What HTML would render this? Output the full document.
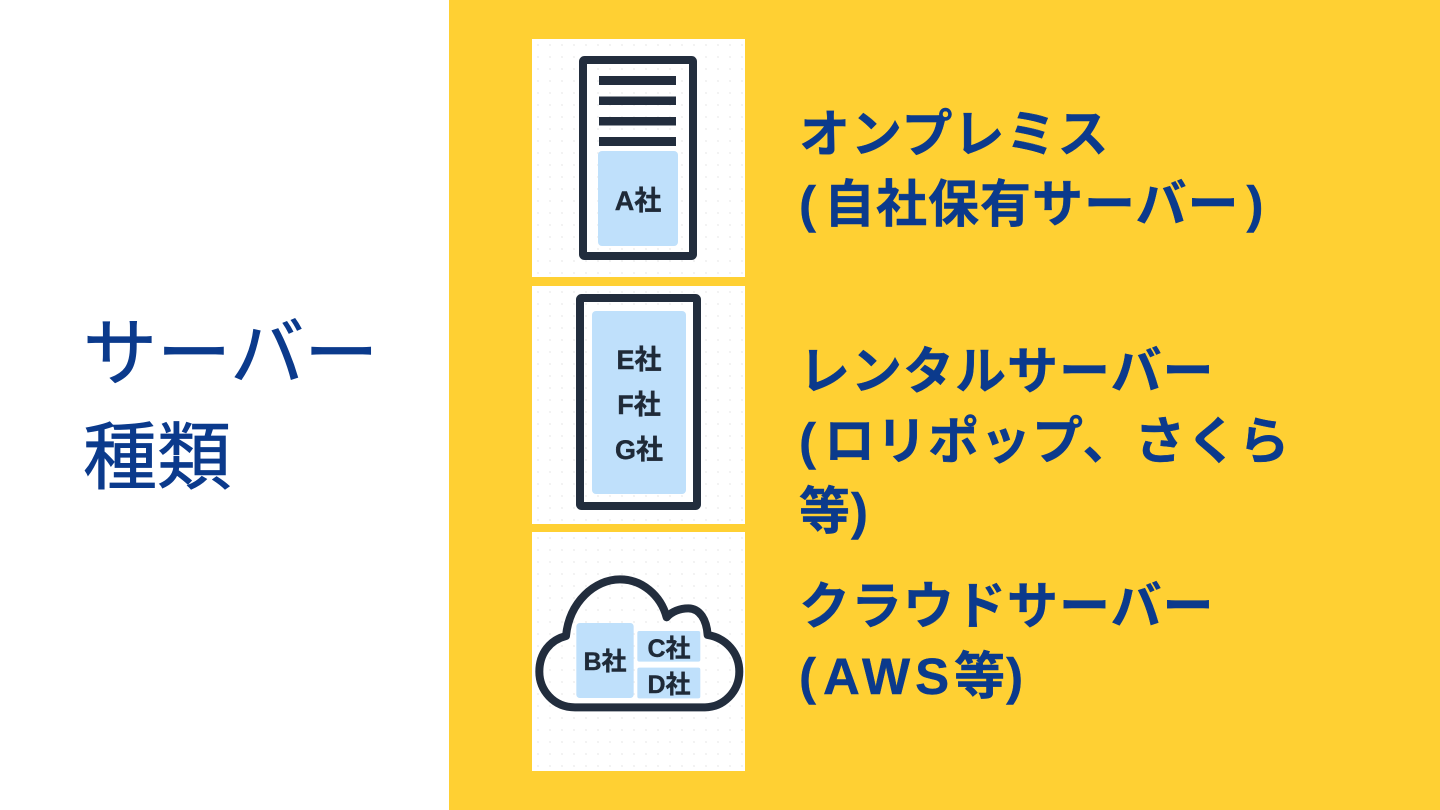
<!DOCTYPE html>
<html lang="ja"><head><meta charset="utf-8">
<style>
html,body{margin:0;padding:0}
body{width:1440px;height:810px;overflow:hidden;background:#fff;position:relative;font-family:"Liberation Sans","Noto Sans CJK JP",sans-serif}
.y{position:absolute;left:449px;top:0;width:991px;height:810px;background:#ffd033}
.p{position:absolute;left:532px;width:213px;height:238px;background-color:#fff;background-image:radial-gradient(circle,#efefef 0.8px,transparent 1.1px);background-size:12px 12px}
.t{position:absolute;color:#0b3a8c;white-space:nowrap}
.h{font-size:74px;left:83px;font-weight:400;-webkit-text-stroke:0.8px #0b3a8c}
.r{font-size:51px;font-weight:700;letter-spacing:1px;left:799px;-webkit-text-stroke:0.4px #0b3a8c}
.o{letter-spacing:8px}
svg{position:absolute;left:0;top:0}
svg text{font-family:"Liberation Sans","Noto Sans CJK JP",sans-serif;font-weight:700;fill:#1f2a38;stroke:#1f2a38;stroke-width:.4px;font-size:27px;text-anchor:middle}
</style></head><body>
<div class="y"></div>
<div class="p" style="top:39px"></div>
<div class="p" style="top:286px"></div>
<div class="p" style="top:532px;height:239px"></div>
<svg width="1440" height="810" viewBox="0 0 1440 810">
<rect x="583" y="60" width="110" height="196" fill="none" stroke="#222d3d" stroke-width="8" rx="1.5"/>
<rect x="599" y="76" width="77" height="9" fill="#222d3d"/>
<rect x="599" y="96.5" width="77" height="8.5" fill="#222d3d"/>
<rect x="599" y="117" width="77" height="8.5" fill="#222d3d"/>
<rect x="599" y="137" width="77" height="9" fill="#222d3d"/>
<rect x="598" y="151" width="80" height="95" rx="4" fill="#bfe0fb"/>
<text x="638" y="210">A社</text>
<rect x="580" y="298" width="117" height="208" fill="none" stroke="#222d3d" stroke-width="8" rx="1.5"/>
<rect x="592" y="311" width="94" height="183" rx="4" fill="#bfe0fb"/>
<text x="639" y="369">E社</text>
<text x="639" y="414">F社</text>
<text x="639" y="459">G社</text>
<g transform="translate(530,530) scale(0.3333)">
<path d="M135 532C70 532 28 480 28 425C28 370 60 330 108 318C118 215 195 148 270 148C335 148 392 195 410 262C425 245 450 235 475 235C510 235 530 270 533 315C590 325 628 370 628 425C628 485 580 532 525 532Z" fill="none" stroke="#222d3d" stroke-width="24" stroke-linejoin="round"/>
<rect x="139" y="279" width="172" height="225" rx="10" fill="#bfe0fb"/>
<rect x="322" y="303" width="189" height="92" rx="6" fill="#bfe0fb"/>
<rect x="322" y="413" width="189" height="92" rx="6" fill="#bfe0fb"/>
</g>
<text x="605" y="670" style="font-size:25px">B社</text>
<text x="669" y="657" style="font-size:25px">C社</text>
<text x="669" y="693" style="font-size:25px">D社</text>
</svg>
<div class="t h" style="top:302px;line-height:104px">サーバー<br>種類</div>
<div class="t r" style="top:100px;line-height:70px">オンプレミス<br><span class="o">(</span>自社保有サーバー<span style="margin-left:7px">)</span></div>
<div class="t r" style="top:337px;line-height:70px">レンタルサーバー<br><span class="o">(</span>ロリポップ、さくら<br>等)</div>
<div class="t r" style="top:572px;line-height:70px">クラウドサーバー<br><span style="letter-spacing:7px">(</span><span style="letter-spacing:5px">AWS</span>等)</div>
</body></html>
